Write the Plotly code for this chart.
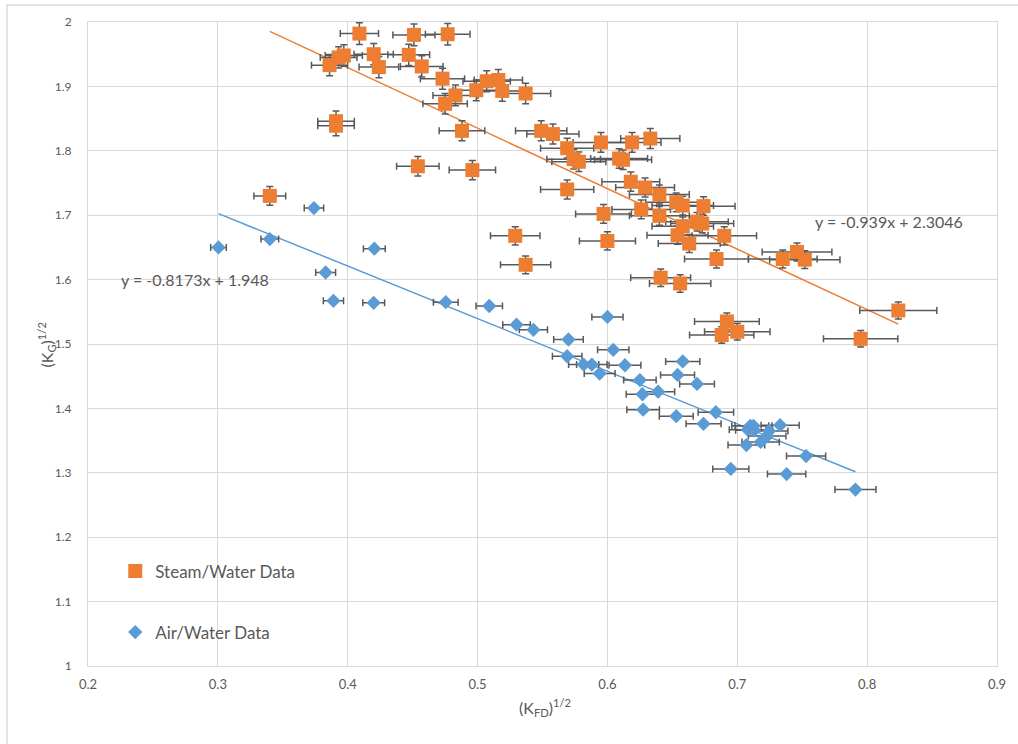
import plotly.graph_objects as go

# Steam/Water measurements: sqrt(K_FD) vs sqrt(K_G)
steam_x = [0.409, 0.451, 0.477, 0.393, 0.397, 0.420, 0.447, 0.386, 0.424, 0.457,
           0.473, 0.499, 0.507, 0.516, 0.519, 0.537, 0.483, 0.475, 0.391, 0.391,
           0.488, 0.549, 0.558, 0.454, 0.496, 0.569, 0.595, 0.619, 0.633, 0.574,
           0.578, 0.609, 0.612, 0.618, 0.629, 0.640, 0.569, 0.653, 0.658, 0.674,
           0.626, 0.640, 0.597, 0.669, 0.673, 0.658, 0.654, 0.690, 0.663, 0.529,
           0.600, 0.684, 0.537, 0.641, 0.656, 0.746, 0.735, 0.752, 0.824, 0.795,
           0.692, 0.700, 0.688, 0.340]
steam_y = [1.982, 1.980, 1.981, 1.945, 1.948, 1.950, 1.949, 1.933, 1.930, 1.931,
           1.912, 1.894, 1.908, 1.910, 1.893, 1.889, 1.886, 1.873, 1.846, 1.839,
           1.831, 1.831, 1.826, 1.776, 1.770, 1.804, 1.813, 1.813, 1.819, 1.787,
           1.783, 1.788, 1.786, 1.752, 1.743, 1.732, 1.740, 1.720, 1.715, 1.714,
           1.709, 1.699, 1.702, 1.690, 1.687, 1.683, 1.669, 1.668, 1.656, 1.668,
           1.660, 1.632, 1.623, 1.603, 1.594, 1.643, 1.632, 1.631, 1.552, 1.508,
           1.535, 1.519, 1.514, 1.730]

# Air/Water measurements
air_x = [0.3005, 0.340, 0.374, 0.4205, 0.383, 0.389, 0.420, 0.4755, 0.509,
         0.530, 0.543, 0.600, 0.570, 0.6045, 0.569, 0.5817, 0.588, 0.6135,
         0.594, 0.658, 0.625, 0.654, 0.669, 0.639, 0.627, 0.6275, 0.653,
         0.674, 0.6835, 0.733, 0.710, 0.7125, 0.708, 0.713, 0.7245, 0.723,
         0.718, 0.707, 0.753, 0.695, 0.738, 0.791]
air_y = [1.650, 1.663, 1.711, 1.648, 1.611, 1.567, 1.564, 1.565, 1.559,
         1.530, 1.522, 1.542, 1.507, 1.491, 1.481, 1.468, 1.468, 1.467,
         1.454, 1.473, 1.444, 1.452, 1.438, 1.426, 1.422, 1.398, 1.388,
         1.376, 1.394, 1.374, 1.373, 1.373, 1.367, 1.366, 1.365, 1.357,
         1.348, 1.343, 1.326, 1.306, 1.298, 1.274]

# Relative uncertainties (percent)
steam_xerr_pct = 3.6
steam_yerr_pct = 0.85
air_xerr_pct = 2.0

# Linear fits: slope, intercept
steam_fit = [-0.939, 2.3046]
air_fit = [-0.8173, 1.948]

x_ticks = [0.2, 0.3, 0.4, 0.5, 0.6, 0.7, 0.8, 0.9]
y_ticks = [1, 1.1, 1.2, 1.3, 1.4, 1.5, 1.6, 1.7, 1.8, 1.9, 2]

ORANGE = "#ED7D31"
BLUE = "#5B9BD5"
ERR = "#595959"
TXT = "#595959"
GRID = "#D9D9D9"
FONT = "Lato, 'Open Sans', sans-serif"


def fit_line(xs, coef):
    x0, x1 = min(xs), max(xs)
    return [x0, x1], [coef[0] * x0 + coef[1], coef[0] * x1 + coef[1]]


fig = go.Figure()

sx, sy = fit_line(steam_x, steam_fit)
fig.add_trace(go.Scatter(x=sx, y=sy, mode="lines", showlegend=False,
                         line=dict(color=ORANGE, width=1.5), hoverinfo="skip"))
ax, ay = fit_line(air_x, air_fit)
fig.add_trace(go.Scatter(x=ax, y=ay, mode="lines", showlegend=False,
                         line=dict(color=BLUE, width=1.5), hoverinfo="skip"))

fig.add_trace(go.Scatter(
    x=air_x, y=air_y, mode="markers", name="Air/Water Data", legend="legend2",
    marker=dict(symbol="diamond", size=11, color=BLUE),
    error_x=dict(type="percent", value=air_xerr_pct, color=ERR, thickness=1.5, width=3.5),
))
fig.add_trace(go.Scatter(
    x=steam_x, y=steam_y, mode="markers", name="Steam/Water Data", legend="legend",
    marker=dict(symbol="square", size=14, color=ORANGE),
    error_x=dict(type="percent", value=steam_xerr_pct, color=ERR, thickness=1.5, width=3.5),
    error_y=dict(type="percent", value=steam_yerr_pct, color=ERR, thickness=1.5, width=3.5),
))

fig.add_annotation(x=0.8168, y=1.691, text="y = -0.939x + 2.3046", showarrow=False,
                   font=dict(family=FONT, size=16, color=TXT))
fig.add_annotation(x=0.2825, y=1.5994, text="y = -0.8173x + 1.948", showarrow=False,
                   font=dict(family=FONT, size=16, color=TXT))

# axis titles
fig.add_annotation(xref="paper", yref="paper", x=-0.046, y=0.498,
                   xanchor="center", yanchor="middle",
                   text="(K<sub>G</sub>)<sup>1/2</sup>", textangle=-90, showarrow=False,
                   font=dict(family=FONT, size=16, color=TXT))
fig.add_annotation(xref="paper", yref="paper", x=0.503, y=-0.065,
                   xanchor="center", yanchor="middle",
                   text="(K<sub>FD</sub>)<sup>1/2</sup>", showarrow=False,
                   font=dict(family=FONT, size=16, color=TXT))

# outer chart border
fig.add_shape(type="rect", xref="paper", yref="paper",
              x0=-0.0891, x1=1.2, y0=-0.3, y1=1.0264,
              line=dict(color=GRID, width=1.5), layer="below")

fig.update_layout(
    width=1018, height=744,
    margin=dict(l=88, r=21, t=22, b=78),
    paper_bgcolor="white", plot_bgcolor="white",
    font=dict(family=FONT, color=TXT),
    legend=dict(x=0.03, y=0.147, xanchor="left", yanchor="middle",
                bgcolor="rgba(0,0,0,0)", font=dict(size=17, color=TXT)),
    legend2=dict(x=0.03, y=0.052, xanchor="left", yanchor="middle",
                 bgcolor="rgba(0,0,0,0)", font=dict(size=17, color=TXT)),
    xaxis=dict(range=[0.2, 0.9], tickvals=x_ticks, ticktext=[f"{v:g}" for v in x_ticks],
               showgrid=True, gridcolor=GRID, gridwidth=1,
               showline=True, linecolor=GRID, mirror=True, zeroline=False,
               ticks="", ticklabelstandoff=6,
               tickfont=dict(size=13, color=TXT)),
    yaxis=dict(range=[1, 2], tickvals=y_ticks, ticktext=[f"{v:g}" for v in y_ticks],
               showgrid=True, gridcolor=GRID, gridwidth=1,
               showline=True, linecolor=GRID, mirror=True, zeroline=False,
               ticks="", ticklabelstandoff=13,
               tickfont=dict(size=12, color=TXT)),
)

fig.write_html("out.html")
